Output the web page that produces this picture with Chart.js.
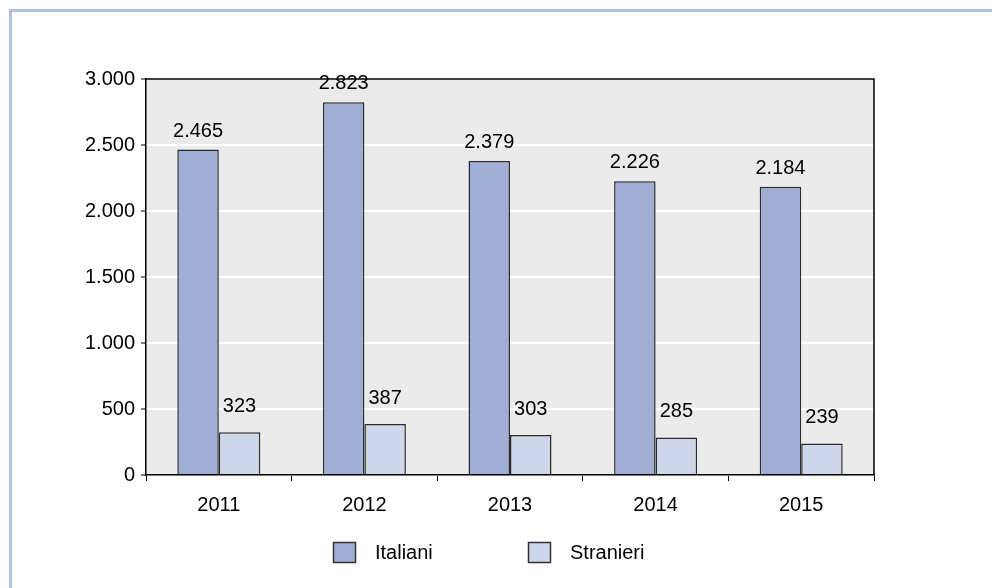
<!DOCTYPE html>
<html>
<head>
<meta charset="utf-8">
<script src="https://cdn.jsdelivr.net/npm/chart.js@4/dist/chart.umd.min.js"></script>
<style>
  html, body { margin: 0; padding: 0; background: #fff; }
  #wrap { position: relative; width: 992px; height: 588px; }
  #frame { position: absolute; left: 9px; top: 9px; right: 0; bottom: 0;
           border-left: 3px solid #b3bfe5; border-top: 3px solid #b3bfe5; }
  #box { position: absolute; left: 0; top: 0; width: 992px; height: 588px; }
</style>
</head>
<body>
<div id="wrap">
  <div id="frame"></div>
  <div id="box"><canvas id="chart"></canvas></div>
</div>
<script>
// data
const years = ['2011', '2012', '2013', '2014', '2015'];
const italiani = [2465, 2823, 2379, 2226, 2184];
const stranieri = [323, 387, 303, 285, 239];
const yTicks = [0, 500, 1000, 1500, 2000, 2500, 3000];

const FONT = "'Liberation Sans', Arial, Helvetica, sans-serif";
const SIZE = 20;
Chart.defaults.font.family = FONT;
Chart.defaults.font.size = SIZE;
Chart.defaults.color = '#000';

// italian thousand separator: 2465 -> 2.465
function fmt(v) {
    return String(v).replace(/\B(?=(\d{3})+(?!\d))/g, '.');
}

// plot background + black box on top/right
const plotFrame = {
    id: 'plotFrame',
    beforeDraw(chart) {
        const { ctx, chartArea: a } = chart;
        ctx.save();
        ctx.fillStyle = '#ebebeb';
        ctx.fillRect(a.left, a.top, a.right - a.left, a.bottom - a.top);
        ctx.restore();
    },
    afterDraw(chart) {
        const { ctx, chartArea: a } = chart;
        ctx.save();
        ctx.strokeStyle = '#000';
        ctx.lineWidth = 1.5;
        ctx.beginPath();
        ctx.moveTo(a.left, a.top);
        ctx.lineTo(a.right, a.top);
        ctx.lineTo(a.right, a.bottom);
        ctx.stroke();
        ctx.restore();
    }
};

// value labels above the bars
const valueLabels = {
    id: 'valueLabels',
    afterDatasetsDraw(chart) {
        const ctx = chart.ctx;
        ctx.save();
        ctx.font = SIZE + 'px ' + FONT;
        ctx.fillStyle = '#000';
        ctx.textAlign = 'center';
        ctx.textBaseline = 'alphabetic';
        chart.data.datasets.forEach((ds, i) => {
            const gap = i === 0 ? 13 : 20;
            chart.getDatasetMeta(i).data.forEach((bar, j) => {
                ctx.fillText(fmt(ds.data[j]), bar.x, bar.y - gap);
            });
        });
        ctx.restore();
    }
};

// legend below the axis
const bottomLegend = {
    id: 'bottomLegend',
    afterDraw(chart) {
        const ctx = chart.ctx;
        const spots = [333, 528];
        ctx.save();
        ctx.font = SIZE + 'px ' + FONT;
        ctx.textBaseline = 'middle';
        ctx.textAlign = 'left';
        chart.data.datasets.forEach((ds, i) => {
            const x = spots[i];
            ctx.fillStyle = ds.backgroundColor;
            ctx.fillRect(x, 542, 23, 21);
            ctx.strokeStyle = '#333';
            ctx.lineWidth = 1.5;
            ctx.strokeRect(x + 0.5, 542.5, 22, 20);
            ctx.fillStyle = '#000';
            ctx.fillText(ds.label, x + 42, 553);
        });
        ctx.restore();
    }
};

new Chart(document.getElementById('chart'), {
    type: 'bar',
    data: {
        labels: years,
        datasets: [
            {
                label: 'Italiani',
                data: italiani,
                backgroundColor: '#a0aed6',
                borderColor: '#2b2b2b',
                borderWidth: 1.5,
                categoryPercentage: 0.57,
                barPercentage: 1
            },
            {
                label: 'Stranieri',
                data: stranieri,
                backgroundColor: '#d0d6e9',
                borderColor: '#2b2b2b',
                borderWidth: 1.5,
                categoryPercentage: 0.57,
                barPercentage: 1
            }
        ]
    },
    options: {
        responsive: true,
        maintainAspectRatio: false,
        animation: false,
        layout: { padding: { top: 79, right: 118, left: 0, bottom: 73 } },
        plugins: {
            legend: { display: false },
            tooltip: { enabled: false }
        },
        scales: {
            x: {
                grid: {
                    offset: true,
                    drawOnChartArea: false,
                    tickLength: 6,
                    tickColor: '#000',
                    lineWidth: 1
                },
                border: { color: '#000', width: 1.5 },
                ticks: { padding: 12 },
                afterFit(scale) { scale.height = 40; }
            },
            y: {
                min: 0,
                max: 3000,
                afterBuildTicks(scale) {
                    scale.ticks = yTicks.map(v => ({ value: v }));
                },
                grid: {
                    color: '#ffffff',
                    lineWidth: 2,
                    tickLength: 5,
                    tickColor: '#000',
                    tickWidth: 1
                },
                border: { color: '#000', width: 1.5 },
                ticks: {
                    padding: 6,
                    callback: v => fmt(v)
                },
                afterFit(scale) { scale.width = 146; }
            }
        }
    },
    plugins: [plotFrame, valueLabels, bottomLegend]
});
</script>
</body>
</html>
